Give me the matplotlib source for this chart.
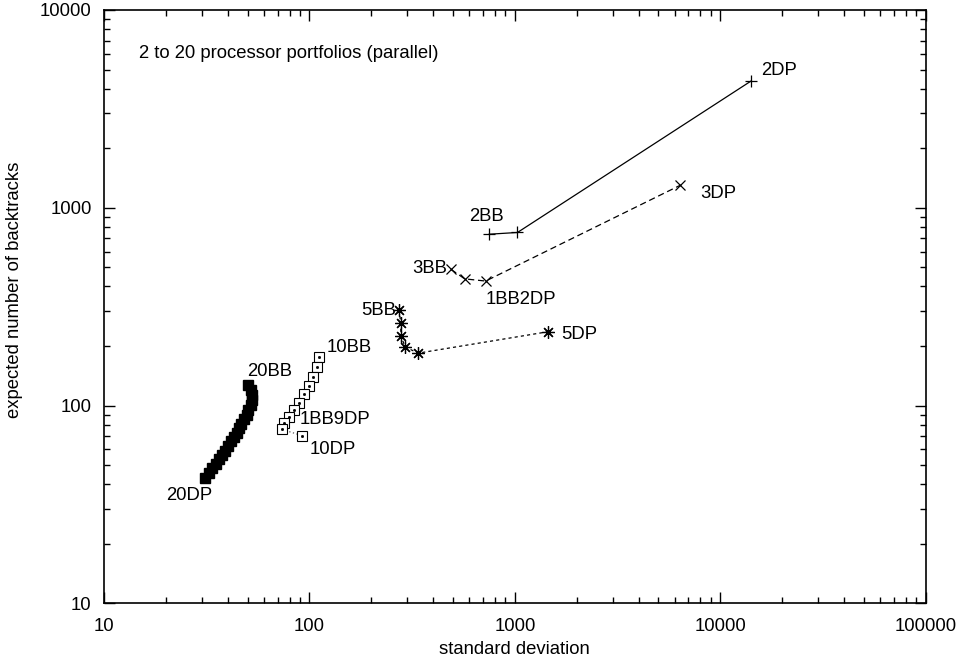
import matplotlib
matplotlib.use("Agg")
import matplotlib.pyplot as plt
from matplotlib.ticker import LogLocator, NullFormatter, FixedLocator, FixedFormatter

plt.rcParams['font.family'] = ['Liberation Sans', 'DejaVu Sans']

# 2-processor portfolios (2BB, 1BB1DP, 2DP)
p2_sd = [750, 1030, 14100]
p2_bt = [735, 750, 4370]
# 3-processor portfolios
p3_sd = [489, 570, 721, 6370]
p3_bt = [488, 437, 426, 1298]
# 5-processor portfolios
p5_sd = [274, 278, 279, 292, 338, 1445]
p5_bt = [304, 260, 225, 198, 184, 236]
# 10-processor portfolios (10BB ... 1BB9DP, 10DP)
p10_sd = [111.7, 109.3, 104.5, 99.9, 94.1, 89.3, 84.1, 79.8, 75.5, 73.3, 92.3]
p10_bt = [175.3, 156.0, 138.8, 125.5, 113.9, 103.3, 94.9, 87.2, 81.3, 75.8, 70.4]
# 20-processor portfolios (20BB ... 20DP)
p20_sd = [50.2, 51.7, 52.3, 52.3, 51.7, 50.5, 49.4, 48.0, 46.7, 45.4, 44.2,
          42.7, 41.5, 40.2, 38.8, 37.5, 36.3, 34.9, 33.6, 32.3, 31.0]
p20_bt = [126.9, 120.5, 113.7, 106.6, 100.6, 94.9, 90.0, 85.4, 81.1, 77.0, 73.0,
          69.3, 65.8, 62.4, 59.2, 56.2, 53.6, 50.9, 48.3, 45.6, 42.8]

title_text = "2 to 20 processor portfolios (parallel)"
x_label = "standard deviation"
y_label = "expected number of backtracks"
x_ticks = [10, 100, 1000, 10000, 100000]
y_ticks = [10, 100, 1000, 10000]

fig = plt.figure(figsize=(9.58, 6.62), dpi=100)
ax = fig.add_axes([104/958, 1-603.3/662, (925.7-104)/958, (603.3-10)/662])
ax.set_xscale('log')
ax.set_yscale('log')
ax.set_xlim(10, 100000)
ax.set_ylim(10, 10000)

k = dict(color='black', linewidth=0.9)
ax.plot(p2_sd, p2_bt, linestyle='-', marker='+', markersize=8, markeredgewidth=0.9, **k)
ax.plot(p3_sd, p3_bt, linestyle=(0, (5, 3)), marker='x', markersize=7, markeredgewidth=0.9, **k)
ax.plot(p5_sd, p5_bt, linestyle=(0, (2.5, 2.5)), marker=(8, 2, 0), markersize=9, markeredgewidth=0.9, **k)
ax.plot(p10_sd, p10_bt, linestyle=(0, (1, 2)), marker='s', markersize=7, markerfacecolor='white',
        markeredgecolor='black', markeredgewidth=0.8, color='#555555', linewidth=0.9)
ax.plot(p10_sd, p10_bt, linestyle='none', marker='s', markersize=1, color='black')
ax.plot(p20_sd, p20_bt, linestyle='-', marker='s', markersize=7, markerfacecolor='black',
        markeredgecolor='black', color='black', linewidth=1)

fs = 13.3
def lab(text, x, y, dx, dy, ha='left'):
    ax.annotate(text, (x, y), xytext=(dx, dy), textcoords='offset pixels',
                ha=ha, va='center', fontsize=fs)

lab("2DP", p2_sd[2], p2_bt[2], 10, 11)
lab("2BB", p2_sd[0], p2_bt[0], -20, 17.6)
lab("3DP", p3_sd[3], p3_bt[3], 20, -8)
lab("3BB", p3_sd[0], p3_bt[0], -4, 1, ha='right')
lab("1BB2DP", p3_sd[2], p3_bt[2], 0, -18)
lab("5BB", p5_sd[0], p5_bt[0], -3, 0, ha='right')
lab("5DP", p5_sd[5], p5_bt[5], 14, -3)
lab("10BB", p10_sd[0], p10_bt[0], 7, 10)
lab("1BB9DP", p10_sd[9], p10_bt[9], 18, 10)
lab("10DP", p10_sd[10], p10_bt[10], 7, -13.6)
lab("20BB", p20_sd[0], p20_bt[0], -1, 14)
lab("20DP", p20_sd[20], p20_bt[20], -39, -17.5)

ax.text((139.3-104)/821.7, (603.3-54)/593.3, title_text, transform=ax.transAxes,
        ha='left', va='center', fontsize=fs)

ax.xaxis.set_major_locator(FixedLocator(x_ticks))
ax.xaxis.set_major_formatter(FixedFormatter([str(v) for v in x_ticks]))
ax.yaxis.set_major_locator(FixedLocator(y_ticks))
ax.yaxis.set_major_formatter(FixedFormatter([str(v) for v in y_ticks]))
ax.xaxis.set_minor_locator(LogLocator(base=10, subs=range(2, 10)))
ax.yaxis.set_minor_locator(LogLocator(base=10, subs=range(2, 10)))
ax.xaxis.set_minor_formatter(NullFormatter())
ax.yaxis.set_minor_formatter(NullFormatter())
ax.tick_params(which='both', direction='in', top=True, right=True, width=1, color='black',
               labelsize=fs)
ax.tick_params(which='major', length=8)
ax.tick_params(which='minor', length=4)
ax.tick_params(axis='x', which='major', pad=10.5)
ax.tick_params(axis='y', which='major', pad=9)
for s in ax.spines.values():
    s.set_linewidth(1.2)

ax.set_xlabel(x_label, fontsize=fs)
ax.set_ylabel(y_label, fontsize=fs)
ax.xaxis.set_label_coords(0.499, (603.3-650)/593.3)
ax.xaxis.label.set_va('center')
ax.yaxis.set_label_coords((15-104)/821.7, (603.3-290)/593.3)
ax.yaxis.label.set_va('center')

fig.savefig("out.png", dpi=100)
